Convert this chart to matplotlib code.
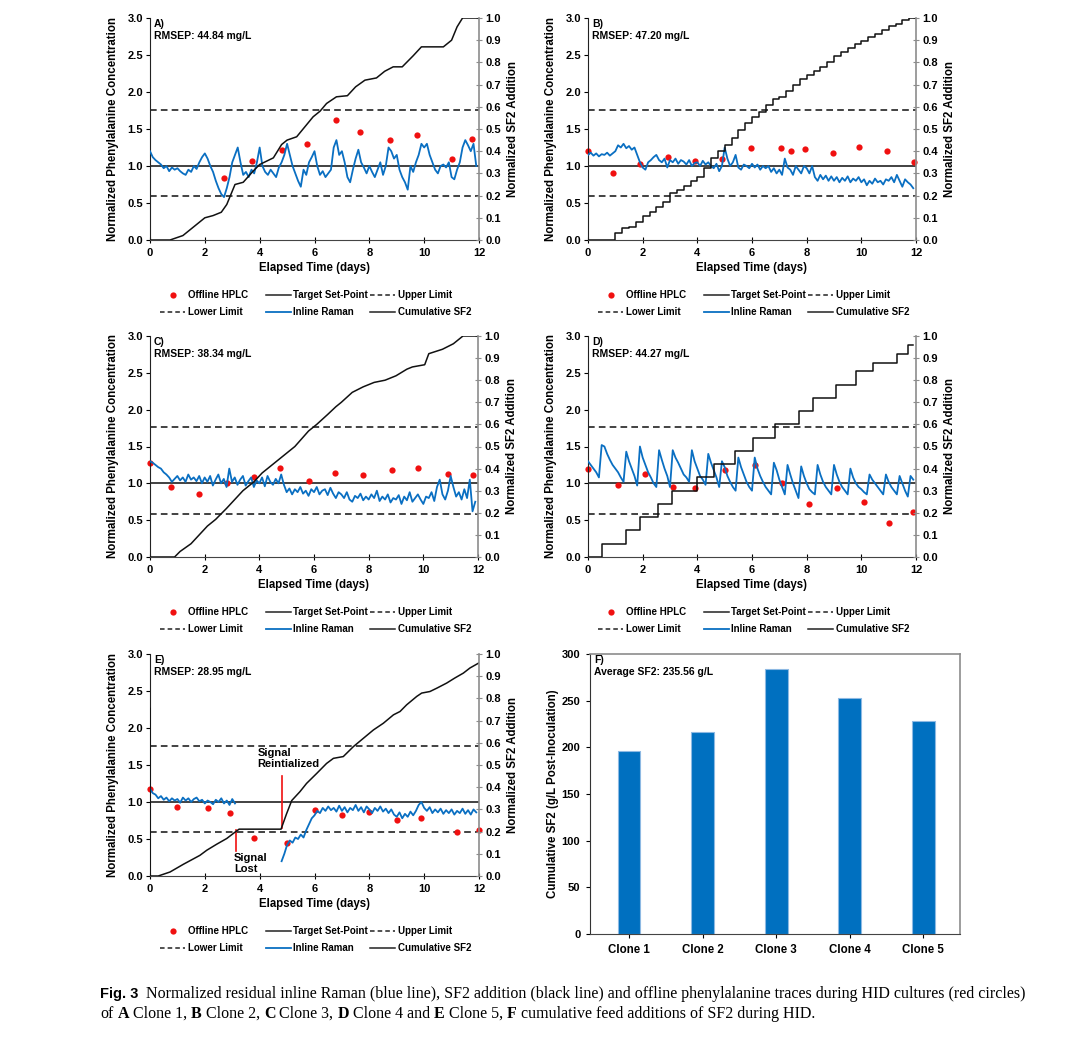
import numpy as np
import matplotlib.pyplot as plt
from matplotlib.lines import Line2D
from matplotlib.ticker import FormatStrFormatter

W, H = 1080, 1040

plt.rcParams.update({
    "font.family": ["Liberation Sans", "DejaVu Sans"],
    "font.weight": "bold",
    "axes.labelweight": "bold",
    "font.size": 7.5,
    "axes.labelsize": 8.3,
    "xtick.labelsize": 8,
    "ytick.labelsize": 8,
})

BLUE = "#0A6FC2"
RED = "#F01010"

# limites de control (eje izquierdo, normalizado)
SETPOINT = 1.0
UPPER = 1.76
LOWER = 0.59

# tiempos de la señal Raman (cada 0.1 días)
t_raman = np.round(np.arange(0, 12, 0.1), 1)

# ---- Panel A (Clone 1) ----
raman_a = [
    1.20, 1.12, 1.08, 1.05, 1.02, 0.97, 1.00, 0.93, 0.98, 0.95,
    0.97, 0.93, 0.90, 0.88, 0.95, 0.92, 1.00, 0.96, 1.05, 1.12,
    1.17, 1.10, 1.00, 0.92, 0.80, 0.70, 0.62, 0.58, 0.70, 0.85,
    1.05, 1.15, 1.25, 1.05, 0.88, 0.92, 0.85, 0.95, 0.90, 1.05,
    1.25, 1.00, 0.92, 0.88, 0.95, 0.90, 0.85, 0.98, 1.05, 1.15,
    1.30, 1.15, 1.00, 0.90, 0.80, 0.72, 0.95, 0.88, 1.05, 1.12,
    1.20, 1.00, 0.88, 0.93, 0.85, 0.90, 0.95, 1.25, 1.35, 1.15,
    1.20, 1.05, 0.85, 0.78, 0.95, 1.10, 1.22, 1.05, 0.98, 0.90,
    1.00, 0.92, 0.85, 0.95, 1.05, 0.88, 1.00, 1.25, 1.20, 1.10,
    1.15, 0.95, 0.85, 0.78, 0.68, 1.00, 0.92, 1.05, 1.15, 1.30,
    1.25, 1.30, 1.15, 1.05, 0.95, 0.90, 1.00, 1.02, 0.98, 1.05,
    0.85, 0.82, 0.95, 1.05, 1.25, 1.35, 1.28, 1.20, 1.30, 1.00,
]
hplc_a_t = [2.7, 3.72, 4.8, 5.72, 6.78, 7.66, 8.74, 9.75, 11.0, 11.75]
hplc_a_v = [0.84, 1.07, 1.21, 1.30, 1.62, 1.46, 1.35, 1.42, 1.10, 1.36]
cum_a_t = [0, 0.73, 1.2, 1.7, 2.0, 2.3, 2.6, 2.8, 3.0, 3.1, 3.4, 3.76, 4.0,
           4.5, 4.8, 5.0, 5.35, 5.65, 5.95, 6.2, 6.44, 6.8, 7.2, 7.5, 7.84,
           8.26, 8.56, 8.87, 9.2, 9.6, 9.9, 10.2, 10.7, 11.0, 11.2, 11.4, 12.0]
cum_a_v = [0, 0, 0.02, 0.07, 0.10, 0.11, 0.125, 0.16, 0.22, 0.25, 0.26, 0.31,
           0.34, 0.37, 0.43, 0.45, 0.465, 0.51, 0.555, 0.58, 0.615, 0.645,
           0.65, 0.69, 0.72, 0.73, 0.76, 0.78, 0.78, 0.83, 0.87, 0.87, 0.87,
           0.90, 0.96, 1.0, 1.0]

# ---- Panel B (Clone 2) ----
raman_b = [
    1.15, 1.18, 1.14, 1.17, 1.13, 1.16, 1.15, 1.18, 1.14, 1.17,
    1.20, 1.28, 1.25, 1.30, 1.24, 1.27, 1.22, 1.25, 1.15, 1.05,
    0.98, 0.95, 1.05, 1.08, 1.12, 1.15, 1.08, 1.05, 1.10, 0.98,
    1.08, 1.05, 1.10, 1.03, 1.08, 1.06, 1.02, 1.08, 1.00, 1.04,
    1.05, 1.00, 1.07, 1.02, 1.05, 1.00, 0.97, 1.03, 0.93, 1.00,
    1.25, 1.10, 1.00, 1.05, 1.15, 0.98, 0.95, 1.02, 1.00, 0.97,
    1.03, 0.98, 1.02, 0.95, 1.00, 0.97, 1.00, 0.92, 0.97, 0.90,
    0.95, 0.88, 1.10, 0.98, 0.95, 0.88, 1.00, 0.95, 0.90, 1.00,
    0.97, 0.90, 1.00, 0.85, 0.80, 0.88, 0.82, 0.87, 0.80, 0.86,
    0.80, 0.85, 0.78, 0.84, 0.80, 0.86, 0.78, 0.83, 0.80, 0.85,
    0.78, 0.82, 0.74, 0.80, 0.76, 0.83, 0.78, 0.80, 0.75, 0.82,
    0.80, 0.85, 0.78, 0.88, 0.80, 0.72, 0.82, 0.78, 0.75, 0.70,
]
hplc_b_t = [0, 0.93, 1.9, 2.93, 3.9, 4.92, 5.95, 7.05, 7.42, 7.95, 8.97,
            9.93, 10.93, 11.92]
hplc_b_v = [1.20, 0.90, 1.03, 1.12, 1.07, 1.10, 1.24, 1.24, 1.20, 1.23,
            1.18, 1.26, 1.20, 1.05]
cum_b_t = np.arange(0, 12.01, 0.25)
cum_b_v = [0, 0, 0, 0, 0.03, 0.055, 0.057, 0.08, 0.11, 0.125, 0.15, 0.17,
           0.21, 0.225, 0.245, 0.265, 0.285, 0.325, 0.37, 0.40, 0.43, 0.46,
           0.495, 0.525, 0.555, 0.575, 0.61, 0.635, 0.645, 0.67, 0.70, 0.725,
           0.745, 0.76, 0.78, 0.80, 0.83, 0.845, 0.865, 0.885, 0.895, 0.915,
           0.93, 0.945, 0.962, 0.975, 0.99, 1.0, 1.0]

# ---- Panel C (Clone 3) ----
raman_c = [
    1.30, 1.28, 1.25, 1.22, 1.20, 1.15, 1.12, 1.08, 1.02, 1.06,
    1.10, 1.04, 1.08, 1.02, 1.12, 1.05, 1.08, 1.03, 1.10, 1.00,
    1.08, 1.02, 1.10, 0.97, 1.05, 1.12, 1.00, 1.06, 0.95, 1.20,
    1.02, 1.08, 0.98, 1.05, 1.10, 0.97, 1.03, 1.08, 0.95, 1.04,
    1.00, 1.08, 0.96, 1.10, 1.02, 0.98, 1.06, 1.00, 1.12, 0.98,
    0.88, 0.93, 0.85, 0.92, 0.88, 0.95, 0.86, 0.90, 0.83, 0.92,
    0.88, 0.95, 0.85, 0.90, 0.92, 0.84, 0.94, 0.86, 0.80, 0.88,
    0.85, 0.80, 0.88, 0.78, 0.75, 0.83, 0.80, 0.86, 0.77, 0.82,
    0.78, 0.85, 0.80, 0.90, 0.76, 0.82, 0.78, 0.85, 0.74, 0.80,
    0.78, 0.84, 0.72, 0.82, 0.77, 0.88, 0.75, 0.80, 0.85, 0.78,
    0.72, 0.82, 0.80, 0.88, 0.76, 0.95, 1.05, 0.85, 0.78, 0.90,
    1.10, 0.95, 0.82, 0.88, 0.78, 0.92, 0.80, 1.05, 0.62, 0.75,
]
hplc_c_t = [0, 0.75, 1.78, 2.8, 3.8, 4.75, 5.8, 6.75, 7.8, 8.85, 9.8, 10.9, 11.8]
hplc_c_v = [1.27, 0.95, 0.85, 1.0, 1.09, 1.21, 1.03, 1.14, 1.11, 1.18, 1.21,
            1.12, 1.11]
cum_c_t = [0, 0.9, 1.1, 1.5, 1.8, 2.1, 2.4, 2.8, 3.1, 3.4, 3.8, 4.1, 4.4, 4.8,
           5.3, 5.8, 6.1, 6.5, 6.8, 7.0, 7.4, 7.8, 8.2, 8.6, 9.0, 9.4, 9.6,
           10.05, 10.2, 10.7, 11.1, 11.45, 12.0]
cum_c_v = [0, 0, 0.025, 0.06, 0.10, 0.14, 0.17, 0.22, 0.26, 0.30, 0.34, 0.38,
           0.41, 0.45, 0.50, 0.57, 0.60, 0.645, 0.68, 0.70, 0.745, 0.77, 0.79,
           0.80, 0.82, 0.85, 0.86, 0.87, 0.92, 0.94, 0.965, 1.0, 1.0]

# ---- Panel D (Clone 4) ----
raman_d = [
    1.30, 1.25, 1.20, 1.15, 1.08, 1.52, 1.50, 1.40, 1.32, 1.25,
    1.20, 1.15, 1.08, 1.02, 1.43, 1.30, 1.20, 1.10, 0.97, 1.50,
    1.35, 1.25, 1.15, 1.08, 1.00, 0.95, 1.45, 1.32, 1.20, 1.10,
    0.95, 1.45, 1.35, 1.28, 1.20, 1.12, 1.08, 1.02, 1.45, 1.30,
    1.20, 1.10, 1.05, 0.98, 1.40, 1.28, 1.18, 1.08, 0.95, 1.30,
    1.22, 1.10, 1.02, 0.95, 0.90, 1.35, 1.22, 1.12, 1.02, 0.95,
    0.90, 1.35, 1.20, 1.10, 1.02, 0.95, 0.90, 0.85, 1.28, 1.18,
    1.05, 0.95, 0.85, 1.25, 1.12, 1.00, 0.90, 0.80, 1.23, 1.10,
    1.00, 0.92, 0.88, 0.85, 1.25, 1.12, 1.02, 0.95, 0.90, 0.85,
    1.25, 1.12, 1.02, 0.95, 0.90, 0.85, 1.20, 1.08, 1.00, 0.95,
    0.92, 0.88, 0.85, 1.12, 1.05, 1.00, 0.95, 0.90, 0.85, 1.12,
    1.02, 0.95, 0.90, 0.85, 1.10, 1.00, 0.90, 0.82, 1.10, 1.05,
]
hplc_d_t = [0, 1.1, 2.1, 3.1, 3.9, 5.0, 6.1, 7.1, 8.1, 9.1, 10.1, 11.0, 11.9]
hplc_d_v = [1.20, 0.98, 1.12, 0.95, 0.94, 1.18, 1.25, 1.0, 0.72, 0.93, 0.74,
            0.46, 0.61]
cum_d_t = [0, 0.5, 1.4, 1.92, 2.57, 3.07, 3.97, 4.62, 5.37, 6.03, 6.83, 7.72,
           8.22, 9.07, 9.82, 10.42, 11.3, 11.72, 11.9]
cum_d_v = [0, 0.06, 0.12, 0.18, 0.24, 0.30, 0.36, 0.42, 0.48, 0.54, 0.60,
           0.66, 0.72, 0.78, 0.84, 0.88, 0.92, 0.96, 0.96]

# ---- Panel E (Clone 5) ----
t_e1 = np.round(np.arange(0, 3.15, 0.1), 1)
raman_e1 = [
    1.18, 1.12, 1.10, 1.05, 1.08, 1.03, 1.06, 1.01, 1.05, 1.02,
    1.04, 0.99, 1.06, 1.02, 1.05, 1.00, 1.04, 1.06, 1.01, 1.03,
    0.98, 1.02, 1.00, 0.97, 1.03, 1.00, 1.05, 0.98, 1.02, 0.96,
    1.04, 0.98,
]
t_e2 = np.round(np.arange(4.8, 11.95, 0.1), 1)
raman_e2 = [
    0.20, 0.30, 0.42, 0.48, 0.45, 0.52, 0.50, 0.56, 0.52, 0.62,
    0.70, 0.78, 0.82, 0.88, 0.85, 0.92, 0.88, 0.94, 0.89, 0.92,
    0.87, 0.95, 0.88, 0.93, 0.86, 0.92, 0.89, 0.96, 0.88, 0.93,
    0.86, 0.94, 0.90, 0.85, 0.92, 0.88, 0.94, 0.87, 0.91, 0.85,
    0.90, 0.83, 0.80, 0.86, 0.78, 0.84, 0.80, 0.87, 0.82, 0.88,
    0.96, 1.00, 0.92, 0.88, 0.93, 0.85, 0.90, 0.86, 0.91, 0.84,
    0.89, 0.85, 0.90, 0.83, 0.88, 0.85, 0.91, 0.84, 0.89, 0.83,
    0.90, 0.86,
]
hplc_e_t = [0, 1.0, 2.1, 2.9, 3.8, 5.0, 6.0, 7.0, 8.0, 9.0, 9.9, 11.2, 12.0]
hplc_e_v = [1.18, 0.93, 0.92, 0.85, 0.52, 0.44, 0.89, 0.83, 0.86, 0.76, 0.79,
            0.59, 0.62]
cum_e_t = [0, 0, 0.3, 0.73, 1.22, 1.82, 2.07, 2.43, 2.8, 3.16, 3.25, 4.78,
           4.98, 5.17, 5.47, 5.71, 6.08, 6.44, 6.69, 7.05, 7.42, 7.78, 8.15,
           8.51, 8.88, 9.12, 9.36, 9.73, 9.91, 10.21, 10.46, 10.82, 11.12,
           11.43, 11.67, 12.0]
cum_e_v = [0.755, 0, 0, 0.018, 0.053, 0.093, 0.116, 0.143, 0.169, 0.203,
           0.211, 0.211, 0.28, 0.34, 0.38, 0.417, 0.462, 0.507, 0.53, 0.538,
           0.583, 0.62, 0.658, 0.688, 0.726, 0.741, 0.771, 0.809, 0.824,
           0.831, 0.846, 0.869, 0.892, 0.914, 0.937, 0.96]
# anotaciones de la señal perdida / reiniciada: (t, y0, y1)
signal_lost = (3.15, 0.34, 0.62)
signal_reinit = (4.8, 0.655, 1.35)

# ---- Panel F ----
clones = ["Clone 1", "Clone 2", "Clone 3", "Clone 4", "Clone 5"]
sf2_total = [196, 216, 284, 253, 228]

fig = plt.figure(figsize=(W / 100, H / 100), dpi=100)


def rect(left, top, right, bottom):
    return [left / W, 1 - bottom / H, (right - left) / W, (bottom - top) / H]


def style_twin(ax, ax2):
    ax.set_xlim(0, 12)
    ax.set_ylim(0, 3)
    ax2.set_ylim(0, 1)
    ax.set_xticks(range(0, 13, 2))
    ax.set_yticks(np.arange(0, 3.01, 0.5))
    ax2.set_yticks(np.arange(0, 1.01, 0.1))
    ax.yaxis.set_major_formatter(FormatStrFormatter("%.1f"))
    ax2.yaxis.set_major_formatter(FormatStrFormatter("%.1f"))
    for s in ["top", "right"]:
        ax.spines[s].set_visible(False)
    for s in ["top", "left", "bottom"]:
        ax2.spines[s].set_visible(False)
    ax.spines["left"].set_color("#222222")
    ax.spines["bottom"].set_color("#444444")
    ax2.spines["right"].set_color("#8c8c8c")
    ax2.spines["right"].set_linewidth(1.2)
    ax.tick_params(axis="y", direction="out", length=3, width=0.8, pad=2)
    ax.tick_params(axis="x", direction="inout", length=5, width=0.8, pad=3)
    ax2.tick_params(axis="y", direction="inout", length=5, width=0.8, pad=2,
                    color="#8c8c8c")
    ax.set_xlabel("Elapsed Time (days)", labelpad=3)
    ax.set_ylabel("Normalized Phenylalanine Concentration")
    ax2.set_ylabel("Normalized SF2 Addition")
    ax.yaxis.set_label_coords(-0.094, 0.5)
    ax2.yaxis.set_label_coords(1.085, 0.5)


def trend_panel(r, letter, rmsep, segments, hplc_t, hplc_v, cum_t, cum_v,
                steps=False):
    ax = fig.add_axes(r)
    ax2 = ax.twinx()
    ax.axhline(SETPOINT, color="#333333", lw=1.3, zorder=1)
    ax.axhline(UPPER, color="#222222", lw=1.2, ls=(0, (4, 2.5)), zorder=1)
    ax.axhline(LOWER, color="#222222", lw=1.2, ls=(0, (4, 2.5)), zorder=1)
    ax.plot(hplc_t, hplc_v, "o", color=RED, ms=4.5, mec="none", zorder=2,
            clip_on=False)
    for tt, vv in segments:
        ax.plot(tt, vv, color=BLUE, lw=1.3, zorder=3)
    ax2.plot(cum_t, cum_v, color="#111111", lw=1.1,
             drawstyle="steps-post" if steps else "default")
    ax.text(0.012, 0.997, f"{letter})\nRMSEP: {rmsep}", transform=ax.transAxes,
            va="top", ha="left", linespacing=1.25)
    style_twin(ax, ax2)
    panel_legend(ax)
    return ax, ax2


def fig_line(x0, x1, y, **kw):
    fig.add_artist(Line2D([x0 / W, x1 / W], [1 - y / H, 1 - y / H],
                          transform=fig.transFigure, **kw))


def fig_label(x, y, s, **kw):
    fig.text(x / W, 1 - y / H, s, va="center", ha="left", **kw)


def panel_legend(ax):
    pos = ax.get_position()
    x0 = pos.x0 * W
    yb = (1 - pos.y0) * H
    r1, r2 = yb + 55, yb + 72
    dash = (0, (3, 2))
    fig.add_artist(Line2D([(x0 + 23) / W], [1 - r1 / H], marker="o",
                          color=RED, ms=4.5, mec="none", ls="none",
                          transform=fig.transFigure))
    fig_label(x0 + 38, r1, "Offline HPLC", fontsize=7)
    fig_line(x0 + 116, x0 + 141, r1, color="#222222", lw=1.1)
    fig_label(x0 + 143, r1, "Target Set-Point", fontsize=7)
    fig_line(x0 + 220, x0 + 245, r1, color="#222222", lw=1.1, ls=dash)
    fig_label(x0 + 248, r1, "Upper Limit", fontsize=7)
    fig_line(x0 + 10, x0 + 35, r2, color="#222222", lw=1.1, ls=dash)
    fig_label(x0 + 38, r2, "Lower Limit", fontsize=7)
    fig_line(x0 + 116, x0 + 141, r2, color=BLUE, lw=1.3)
    fig_label(x0 + 143, r2, "Inline Raman", fontsize=7)
    fig_line(x0 + 220, x0 + 245, r2, color="#222222", lw=1.1)
    fig_label(x0 + 248, r2, "Cumulative SF2", fontsize=7)


trend_panel(rect(150, 18, 479, 240), "A", "44.84 mg/L", [(t_raman, raman_a)],
            hplc_a_t, hplc_a_v, cum_a_t, cum_a_v)
trend_panel(rect(588, 18, 916, 240), "B", "47.20 mg/L", [(t_raman, raman_b)],
            hplc_b_t, hplc_b_v, cum_b_t, cum_b_v, steps=True)
trend_panel(rect(150, 336, 478, 557), "C", "38.34 mg/L", [(t_raman, raman_c)],
            hplc_c_t, hplc_c_v, cum_c_t, cum_c_v)
trend_panel(rect(588, 336, 916, 557), "D", "44.27 mg/L", [(t_raman, raman_d)],
            hplc_d_t, hplc_d_v, cum_d_t, cum_d_v, steps=True)
ax_e, ax_e2 = trend_panel(rect(150, 654, 479, 876), "E", "28.95 mg/L",
                          [(t_e1, raman_e1), (t_e2, raman_e2)],
                          hplc_e_t, hplc_e_v, cum_e_t, cum_e_v)

# anotaciones del panel E
ax_e.plot([signal_lost[0]] * 2, signal_lost[1:], color=RED, lw=1.2, zorder=4)
ax_e.plot([signal_reinit[0]] * 2, signal_reinit[1:], color=RED, lw=1.2, zorder=4)
ax_e.text(3.07, 0.31, "Signal\nLost", va="top", ha="left", linespacing=1.15,
          fontsize=8)
ax_e.text(3.93, 1.73, "Signal\nReintialized", va="top", ha="left",
          linespacing=1.15, fontsize=8)

# ---- Panel F ----
ax_f = fig.add_axes(rect(590, 654, 960, 934))
ax_f.bar(clones, sf2_total, width=0.31, color="#0070C0", edgecolor="#8DB9E3",
         lw=0.8)
ax_f.set_xlim(-0.53, 4.5)
ax_f.set_ylim(0, 300)
ax_f.set_yticks(range(0, 301, 50))
ax_f.tick_params(axis="y", direction="out", length=3, pad=4, labelsize=8)
ax_f.tick_params(axis="x", direction="out", length=3, pad=4, labelsize=8.3)
for s in ["top", "right"]:
    ax_f.spines[s].set_color("#8c8c8c")
    ax_f.spines[s].set_linewidth(1.2)
ax_f.spines["left"].set_color("#333333")
ax_f.spines["bottom"].set_color("#444444")
ax_f.set_ylabel("Cumulative SF2 (g/L Post-Inoculation)")
ax_f.yaxis.set_label_coords(-0.085, 0.5)
ax_f.text(0.012, 0.995, "F)\nAverage SF2: 235.56 g/L", transform=ax_f.transAxes,
          va="top", ha="left", linespacing=1.15)

# ---- Pie de figura ----
renderer = fig.canvas.get_renderer()
CAP = 11.5
serif = dict(family=["Liberation Serif", "DejaVu Serif"], fontsize=CAP,
             weight="normal")
serif_b = dict(family=["Liberation Serif", "DejaVu Serif"], fontsize=CAP,
               weight="bold")
probe1 = fig.text(0, 0, "x x", **serif)
probe2 = fig.text(0, 0, "xx", **serif)
space_w = (probe1.get_window_extent(renderer).width
           - probe2.get_window_extent(renderer).width)
probe1.remove()
probe2.remove()


def rich_line(x, y, parts):
    for s, kw in parts:
        txt = s.strip()
        if s.startswith(" "):
            x += space_w
        t = fig.text(x / W, 1 - y / H, txt, va="baseline", ha="left", **kw)
        x = t.get_window_extent(renderer).x1
        if s.endswith(" "):
            x += space_w


rich_line(100, 998, [
    ("Fig. 3  ", dict(family=["Liberation Sans"], fontsize=10.5, weight="bold")),
    (" Normalized residual inline Raman (blue line), SF2 addition (black line) "
     "and offline phenylalanine traces during HID cultures (red circles)", serif),
])
rich_line(100, 1018, [
    ("of ", serif), ("A", serif_b), (" Clone 1, ", serif), ("B", serif_b),
    (" Clone 2, ", serif), ("C", serif_b), (" Clone 3, ", serif),
    ("D", serif_b), (" Clone 4 and ", serif), ("E", serif_b),
    (" Clone 5, ", serif), ("F", serif_b),
    (" cumulative feed additions of SF2 during HID.", serif),
])

fig.savefig("out.png", dpi=100)
